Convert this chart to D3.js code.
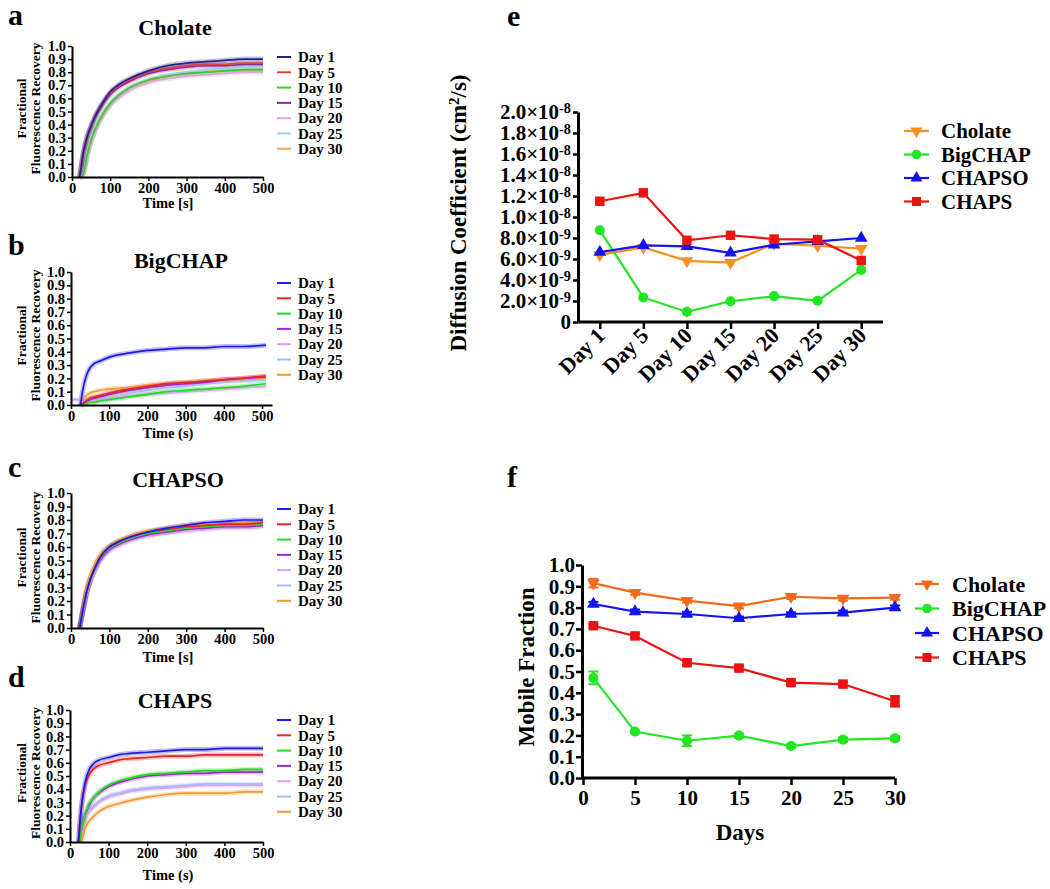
<!DOCTYPE html>
<html><head><meta charset="utf-8">
<script src="https://cdn.jsdelivr.net/npm/d3@7"></script>
<style>
body{margin:0;background:#fff;}
svg{display:block;font-family:"Liberation Serif","Times New Roman",serif;font-weight:bold;}
</style></head><body>
<svg id="chart" width="1050" height="889"></svg>
<script>
// ---------------- DATA ----------------
const dayLabels = ["Day 1","Day 5","Day 10","Day 15","Day 20","Day 25","Day 30"];
const frapTicksX = [0,100,200,300,400,500];

// (a) Cholate recovery (fit curves)
const timeCholate = [20,25,30,40,50,60,75,100,125,150,200,250,300,350,400,450,500];
const cholateRecovery = [
  [0,0.10,0.19,0.31,0.39,0.46,0.54,0.65,0.71,0.75,0.81,0.85,0.87,0.88,0.89,0.90,0.90],
  [0,0.10,0.19,0.31,0.39,0.46,0.54,0.64,0.70,0.74,0.80,0.83,0.85,0.86,0.86,0.87,0.87],
  [0,0,0.03,0.17,0.28,0.36,0.45,0.56,0.63,0.68,0.74,0.77,0.79,0.80,0.81,0.82,0.82],
  [0,0.09,0.18,0.30,0.38,0.45,0.53,0.63,0.69,0.73,0.79,0.82,0.84,0.85,0.85,0.86,0.86],
  [0,0,0.03,0.16,0.27,0.35,0.44,0.55,0.61,0.66,0.72,0.75,0.77,0.78,0.79,0.80,0.80],
  [0,0,0.03,0.17,0.28,0.36,0.45,0.56,0.63,0.68,0.74,0.78,0.80,0.82,0.83,0.84,0.84],
  [0,0,0.03,0.16,0.27,0.35,0.44,0.55,0.62,0.67,0.73,0.77,0.79,0.80,0.81,0.81,0.81]
];
// (b) BigCHAP
const timeBigCHAP = [0,25,30,40,50,60,75,100,150,200,250,300,350,400,450,510];
const bigchapRecovery = [
  [null,0,0.10,0.22,0.28,0.31,0.33,0.36,0.39,0.41,0.42,0.43,0.43,0.44,0.44,0.45],
  [null,0,0.01,0.03,0.05,0.06,0.07,0.09,0.12,0.14,0.16,0.17,0.18,0.19,0.20,0.22],
  [null,0,0,0.01,0.02,0.02,0.03,0.04,0.06,0.08,0.10,0.11,0.12,0.13,0.14,0.16],
  [null,0,0.01,0.03,0.04,0.05,0.06,0.08,0.11,0.13,0.15,0.16,0.17,0.19,0.20,0.21],
  [0.04,0.04,0.02,0.03,0.03,0.03,0.04,0.05,0.07,0.08,0.09,0.10,0.11,0.12,0.13,0.14],
  [null,0,0.02,0.03,0.04,0.05,0.06,0.07,0.09,0.11,0.13,0.14,0.16,0.17,0.18,0.19],
  [null,0,0.04,0.07,0.09,0.10,0.11,0.12,0.13,0.15,0.16,0.17,0.18,0.19,0.19,0.20]
];
// (c) CHAPSO
const timeCHAPSO = [22,25,30,40,50,60,75,100,125,150,200,250,300,350,400,450,500];
const chapsoRecovery = [
  [0,0.04,0.12,0.26,0.36,0.43,0.52,0.60,0.64,0.67,0.71,0.74,0.76,0.78,0.79,0.80,0.80],
  [0,0.04,0.12,0.26,0.36,0.43,0.52,0.60,0.64,0.67,0.71,0.73,0.75,0.76,0.77,0.77,0.78],
  [0,0.04,0.11,0.25,0.35,0.42,0.51,0.59,0.63,0.66,0.70,0.72,0.74,0.75,0.76,0.76,0.77],
  [0,0.04,0.11,0.25,0.35,0.42,0.50,0.58,0.62,0.65,0.69,0.71,0.73,0.74,0.75,0.75,0.76],
  [0,0.03,0.10,0.23,0.33,0.40,0.49,0.57,0.61,0.64,0.68,0.70,0.72,0.73,0.74,0.74,0.75],
  [0,0.04,0.11,0.25,0.35,0.42,0.51,0.59,0.63,0.66,0.70,0.72,0.74,0.75,0.76,0.77,0.77],
  [0,0.05,0.14,0.29,0.39,0.46,0.54,0.61,0.65,0.68,0.72,0.74,0.76,0.77,0.77,0.78,0.78]
];
// (d) CHAPS
const timeCHAPS = [22,25,30,40,50,60,75,100,125,150,200,250,300,350,400,450,500];
const chapsRecovery = [
  [0,0.12,0.28,0.46,0.55,0.59,0.62,0.64,0.66,0.67,0.68,0.69,0.70,0.70,0.71,0.71,0.71],
  [0,0.12,0.27,0.44,0.51,0.55,0.58,0.60,0.62,0.63,0.64,0.65,0.65,0.66,0.66,0.66,0.66],
  [null,0,0.10,0.21,0.29,0.33,0.38,0.43,0.46,0.48,0.51,0.52,0.53,0.54,0.54,0.55,0.55],
  [null,0,0.10,0.21,0.28,0.33,0.37,0.42,0.45,0.47,0.50,0.51,0.52,0.52,0.53,0.53,0.53],
  [null,0,0.08,0.18,0.23,0.26,0.30,0.34,0.36,0.38,0.40,0.41,0.42,0.43,0.43,0.43,0.43],
  [null,0,0.08,0.18,0.24,0.27,0.31,0.35,0.37,0.39,0.41,0.42,0.43,0.44,0.44,0.44,0.44],
  [null,null,0,0.11,0.16,0.19,0.23,0.27,0.29,0.31,0.34,0.36,0.37,0.37,0.37,0.38,0.38]
];

// (e) Diffusion coefficient (cm^2/s)
const detergents = ["Cholate","BigCHAP","CHAPSO","CHAPS"];
const diffCholate = [6.4e-9,7.1e-9,5.82e-9,5.66e-9,7.46e-9,7.26e-9,6.98e-9];
const diffBigCHAP = [8.74e-9,2.34e-9,0.96e-9,1.98e-9,2.46e-9,2.02e-9,4.96e-9];
const diffCHAPSO  = [6.66e-9,7.3e-9,7.2e-9,6.59e-9,7.36e-9,7.68e-9,8.0e-9];
const diffCHAPS   = [11.5e-9,12.3e-9,7.78e-9,8.26e-9,7.9e-9,7.84e-9,5.86e-9];
const diffTicks = [0,2e-9,4e-9,6e-9,8e-9,1.0e-8,1.2e-8,1.4e-8,1.6e-8,1.8e-8,2.0e-8];

// (f) Mobile fraction
const days = [1,5,10,15,20,25,30];
const dayTicks = [0,5,10,15,20,25,30];
const mobCholate = [0.915,0.87,0.833,0.807,0.851,0.843,0.847];
const mobBigCHAP = [0.47,0.218,0.175,0.199,0.15,0.18,0.186];
const mobCHAPSO  = [0.817,0.781,0.77,0.75,0.77,0.776,0.80];
const mobCHAPS   = [0.715,0.667,0.541,0.516,0.448,0.441,0.36];
const errCholate = [0.02,0.01,0.01,0.01,0.01,0.01,0.01];
const errBigCHAP = [0.03,0.005,0.025,0.01,0.008,0.01,0.01];
const errCHAPSO  = [0.01,0.01,0.01,0.008,0.008,0.01,0.01];
const errCHAPS   = [0.008,0.01,0.01,0.01,0.01,0.01,0.025];

// ---------------- STYLE ----------------
const dayColorsA = ["#24248c","#d8443f","#3cc63c","#8a2a9e","#d9a6e6","#a9c9ec","#f2a553"];
const dayColors  = ["#1c1ce8","#e82525","#22d822","#a326d0","#d5a3f2","#a7bff2","#f49a34"];
const eColors = ["#f7901e","#22e622","#1414f0","#ee1111"];
const fColors = ["#f26b1d","#22e622","#1414f0","#ee1111"];
const symbols = [
  {type:d3.symbolTriangle, rot:180, size:70},
  {type:d3.symbolCircle, rot:0, size:80},
  {type:d3.symbolTriangle, rot:0, size:70},
  {type:d3.symbolSquare, rot:0, size:90}
];

const svg = d3.select("#chart");
svg.append("rect").attr("width",1050).attr("height",889).attr("fill","#fff");

function styleAxis(g, fs, domainW, tickW){
  g.attr("font-family",null).attr("font-size",null);
  g.select(".domain").attr("stroke","#000").attr("stroke-width",domainW);
  g.selectAll(".tick line").attr("stroke","#000").attr("stroke-width",tickW);
  g.selectAll(".tick text").attr("fill","#000").style("font-size",fs+"px").style("font-weight","bold");
}

// ---------------- PANELS a-d ----------------
const frapPanels = [
  {letter:"a",letterY:25,title:"Cholate",titleX:175,titleY:35,times:timeCholate,series:cholateRecovery,colors:dayColorsA,
   left:72,right:263,top:46,bottom:177,xMax:500,xTitle:"Time [s]",xTitleY:208,legendY:57},
  {letter:"b",letterY:255,title:"BigCHAP",titleX:181,titleY:268,times:timeBigCHAP,series:bigchapRecovery,colors:dayColors,
   left:71,right:272,top:272,bottom:405,xMax:526,xTitle:"Time (s)",xTitleY:438,legendY:283},
  {letter:"c",letterY:477,title:"CHAPSO",titleX:178,titleY:487,times:timeCHAPSO,series:chapsoRecovery,colors:dayColors,
   left:71,right:263,top:493,bottom:628,xMax:500,xTitle:"Time [s]",xTitleY:662,legendY:509},
  {letter:"d",letterY:687,title:"CHAPS",titleX:175,titleY:708,times:timeCHAPS,series:chapsRecovery,colors:dayColors,
   left:70,right:263,top:710,bottom:842,xMax:500,xTitle:"Time (s)",xTitleY:880,legendY:720}
];

frapPanels.forEach(p=>{
  const g = svg.append("g");
  const x = d3.scaleLinear().domain([0,p.xMax]).range([p.left,p.right]);
  const y = d3.scaleLinear().domain([0,1]).range([p.bottom,p.top]);
  const line = d3.line().defined(d=>d[1]!=null).x(d=>x(d[0])).y(d=>y(d[1])).curve(d3.curveMonotoneX);
  const order = d3.range(p.series.length).reverse();
  order.forEach(i=>{
    const pts = p.times.map((t,j)=>[t,p.series[i][j]]);
    g.append("path").attr("d",line(pts)).attr("fill","none")
      .attr("stroke",p.colors[i]).attr("stroke-width",5).attr("stroke-opacity",0.28);
  });
  order.forEach(i=>{
    const pts = p.times.map((t,j)=>[t,p.series[i][j]]);
    g.append("path").attr("d",line(pts)).attr("fill","none")
      .attr("stroke",p.colors[i]).attr("stroke-width",1.7);
  });
  const ya = g.append("g").attr("transform",`translate(${p.left},0)`)
    .call(d3.axisLeft(y).tickValues(d3.range(11).map(i=>i/10)).tickFormat(d3.format(".1f")).tickSize(4).tickSizeOuter(0).tickPadding(2));
  styleAxis(ya,14.5,2,1.5);
  const xa = g.append("g").attr("transform",`translate(0,${p.bottom})`)
    .call(d3.axisBottom(x).tickValues(frapTicksX).tickSize(4).tickSizeOuter(0).tickPadding(2));
  styleAxis(xa,14.5,2,1.5);

  g.append("text").attr("x",8).attr("y",p.letterY).style("font-size","30px").text(p.letter);
  g.append("text").attr("x",p.titleX).attr("y",p.titleY).attr("text-anchor","middle").style("font-size","22px").text(p.title);
  g.append("text").attr("x",168).attr("y",p.xTitleY).attr("text-anchor","middle").style("font-size","14.5px").text(p.xTitle);
  const cy = (p.top+p.bottom)/2-3;
  g.append("text").attr("transform",`translate(26,${cy}) rotate(-90)`).attr("text-anchor","middle").style("font-size","13.5px").text("Fractional");
  g.append("text").attr("transform",`translate(40,${cy}) rotate(-90)`).attr("text-anchor","middle").style("font-size","13.5px").text("Fluorescence Recovery");

  dayLabels.forEach((lab,i)=>{
    const ly = p.legendY + i*15.3;
    g.append("line").attr("x1",277).attr("x2",291).attr("y1",ly).attr("y2",ly).attr("stroke",p.colors[i]).attr("stroke-width",2);
    g.append("text").attr("x",298).attr("y",ly).attr("dy","0.35em").style("font-size","15px").text(lab);
  });
});

// ---------------- PANEL e ----------------
(function(){
  const g = svg.append("g");
  const x = d3.scalePoint().domain(dayLabels).range([578,883]).padding(0.5);
  const y = d3.scaleLinear().domain([0,2e-8]).range([322,112]);
  const data = [diffCholate,diffBigCHAP,diffCHAPSO,diffCHAPS];
  const line = d3.line().x((d,i)=>x(dayLabels[i])).y(d=>y(d));
  data.forEach((vals,k)=>{
    g.append("path").attr("d",line(vals)).attr("fill","none").attr("stroke",eColors[k]).attr("stroke-width",2.2);
    g.selectAll(null).data(vals).enter().append("path")
      .attr("d",d3.symbol().type(symbols[k].type).size(symbols[k].size))
      .attr("transform",(d,i)=>`translate(${x(dayLabels[i])},${y(d)}) rotate(${symbols[k].rot})`)
      .attr("fill",eColors[k]);
  });
  const ya = g.append("g").attr("transform","translate(578,0)")
    .call(d3.axisLeft(y).tickValues(diffTicks).tickSize(5).tickSizeOuter(0).tickPadding(2));
  styleAxis(ya,21,3,2.5);
  ya.selectAll(".tick text").each(function(d){
    const t = d3.select(this); t.text(null);
    if (d===0){ t.text("0"); return; }
    const exp = d >= 9.99e-9 ? -8 : -9;
    const m = d/Math.pow(10,exp);
    t.append("tspan").text(m.toFixed(1)+"\u00d710");
    t.append("tspan").attr("dy","-0.45em").style("font-size","0.68em").text(String(exp));
  });
  const xa = g.append("g").attr("transform","translate(0,322)")
    .call(d3.axisBottom(x).tickSize(7).tickSizeOuter(0));
  styleAxis(xa,22,3,2.5);
  xa.select(".domain").attr("d","M578,0H883");
  xa.selectAll(".tick text").attr("x",0).attr("y",0).attr("dy",0)
    .attr("text-anchor","end").attr("transform","translate(6,15) rotate(-45)");

  g.append("text").attr("x",507).attr("y",26).style("font-size","30px").text("e");
  const yt = g.append("text").attr("transform","translate(466,213) rotate(-90)").attr("text-anchor","middle").style("font-size","23px");
  yt.append("tspan").text("Diffusion Coefficient (cm");
  yt.append("tspan").attr("dy","-0.45em").style("font-size","0.65em").text("2");
  yt.append("tspan").attr("dy","0.29em").text("/s)");

  const rows = [131,154.5,178,201.5];
  detergents.forEach((name,k)=>{
    const ly = rows[k];
    g.append("line").attr("x1",904).attr("x2",929).attr("y1",ly).attr("y2",ly).attr("stroke",eColors[k]).attr("stroke-width",2.2);
    g.append("path").attr("d",d3.symbol().type(symbols[k].type).size(symbols[k].size*0.9))
      .attr("transform",`translate(916.5,${ly}) rotate(${symbols[k].rot})`).attr("fill",eColors[k]);
    g.append("text").attr("x",941).attr("y",ly).attr("dy","0.35em").style("font-size","21px").text(name);
  });
})();

// ---------------- PANEL f ----------------
(function(){
  const g = svg.append("g");
  const x = d3.scaleLinear().domain([0,30]).range([583,895]);
  const y = d3.scaleLinear().domain([0,1]).range([778,565]);
  const data = [mobCholate,mobBigCHAP,mobCHAPSO,mobCHAPS];
  const errs = [errCholate,errBigCHAP,errCHAPSO,errCHAPS];
  const line = d3.line().x((d,i)=>x(days[i])).y(d=>y(d));
  data.forEach((vals,k)=>{
    g.append("path").attr("d",line(vals)).attr("fill","none").attr("stroke",fColors[k]).attr("stroke-width",2.2);
    vals.forEach((v,i)=>{
      const e = errs[k][i];
      const cx = x(days[i]);
      g.append("line").attr("x1",cx).attr("x2",cx).attr("y1",y(v-e)).attr("y2",y(v+e)).attr("stroke",fColors[k]).attr("stroke-width",2);
      [v-e,v+e].forEach(b=>g.append("line").attr("x1",cx-5).attr("x2",cx+5).attr("y1",y(b)).attr("y2",y(b)).attr("stroke",fColors[k]).attr("stroke-width",2));
    });
    g.selectAll(null).data(vals).enter().append("path")
      .attr("d",d3.symbol().type(symbols[k].type).size(symbols[k].size))
      .attr("transform",(d,i)=>`translate(${x(days[i])},${y(d)}) rotate(${symbols[k].rot})`)
      .attr("fill",fColors[k]);
  });
  const ya = g.append("g").attr("transform","translate(582,0)")
    .call(d3.axisLeft(y).tickValues(d3.range(11).map(i=>i/10)).tickFormat(d3.format(".1f")).tickSize(6).tickSizeOuter(0).tickPadding(1));
  styleAxis(ya,21,3,2.5);
  const xa = g.append("g").attr("transform","translate(0,778)")
    .call(d3.axisBottom(x).tickValues(dayTicks).tickSize(7).tickSizeOuter(0).tickPadding(5));
  styleAxis(xa,21,3,2.5);
  xa.select(".domain").attr("d","M582,0H895");

  g.append("text").attr("x",507).attr("y",487).style("font-size","30px").text("f");
  g.append("text").attr("transform","translate(534,667) rotate(-90)").attr("text-anchor","middle").style("font-size","23px").text("Mobile Fraction");
  g.append("text").attr("x",740).attr("y",840).attr("text-anchor","middle").style("font-size","23px").text("Days");

  const rows = [584,608.5,633,657.5];
  detergents.forEach((name,k)=>{
    const ly = rows[k];
    g.append("line").attr("x1",915).attr("x2",939).attr("y1",ly).attr("y2",ly).attr("stroke",fColors[k]).attr("stroke-width",2.2);
    g.append("path").attr("d",d3.symbol().type(symbols[k].type).size(symbols[k].size*0.9))
      .attr("transform",`translate(927,${ly}) rotate(${symbols[k].rot})`).attr("fill",fColors[k]);
    g.append("text").attr("x",952).attr("y",ly).attr("dy","0.35em").style("font-size","22px").text(name);
  });
})();
</script>
</body></html>
